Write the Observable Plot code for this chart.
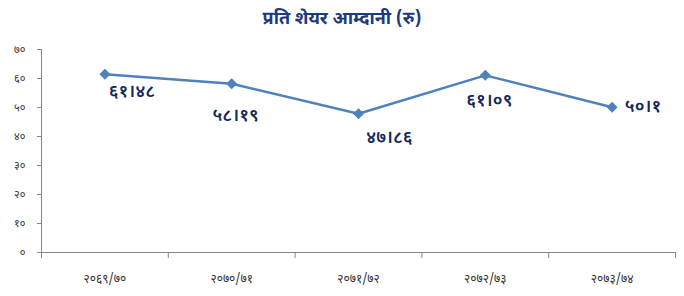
<!DOCTYPE html>
<html><head><meta charset="utf-8">
<script src="https://cdn.jsdelivr.net/npm/d3@7"></script>
<script src="https://cdn.jsdelivr.net/npm/@observablehq/plot@0.6"></script>
<style>
body{margin:0;background:#fff;font-family:"Noto Sans Devanagari","Noto Sans","Lohit Devanagari",sans-serif;}
#title{height:36px;line-height:40px;text-align:center;font-size:18px;font-weight:bold;color:#1f3a7a;}
</style></head>
<body>
<div id="title">प्रति शेयर आम्दानी (रु)</div>
<div id="chart"></div>
<script>
const categories = ["२०६९/७०", "२०७०/७१", "२०७१/७२", "२०७२/७३", "२०७३/७४"];
const values = [61.48, 58.19, 47.86, 61.09, 50.1];
const yTicks = [0, 10, 20, 30, 40, 50, 60, 70];

const digits = "०१२३४५६७८९";
const toDev = v => String(v).replace(/[0-9]/g, d => digits[+d]).replace(".", "।");

const data = categories.map((c, i) => ({i: i + 0.5, cat: c, value: values[i]}));
const offsets = [[27, 17], [4, 31], [31, 24], [4, 25], [31, -1]];
const labelFont = "\"Noto Sans Devanagari\",\"Noto Sans\",sans-serif";

const plot = Plot.plot({
  width: 684, height: 260,
  marginLeft: 41, marginRight: 9, marginTop: 13, marginBottom: 44,
  style: {fontFamily: labelFont, background: "#fff"},
  x: {type: "linear", domain: [0, categories.length], axis: null},
  y: {domain: [0, 70], axis: null},
  marks: [
    Plot.axisY({ticks: yTicks, tickFormat: toDev, tickSize: 4, tickPadding: 12, stroke: "#868686", fill: "#333", fontSize: 11, label: null}),
    Plot.axisX({ticks: d3.range(categories.length + 1), tickFormat: () => "", tickSize: 6, stroke: "#868686", label: null}),
    Plot.axisX({ticks: data.map(d => d.i), tickFormat: (t) => categories[Math.floor(t)], tickSize: 0, tickPadding: 22, fill: "#333", fontSize: 12, label: null}),
    Plot.ruleX([0], {y1: 0, y2: 70, stroke: "#868686"}),
    Plot.ruleY([0], {stroke: "#868686"}),
    Plot.line(data, {x: "i", y: "value", stroke: "#4f81bd", strokeWidth: 2.5}),
    Plot.dot(data, {x: "i", y: "value", symbol: "diamond2", fill: "#4f81bd", stroke: "#4f81bd", r: 4}),
    ...data.map((d, k) => Plot.text([d], {x: "i", y: "value", text: e => toDev(e.value), dx: offsets[k][0], dy: offsets[k][1], fill: "#14285a", fontSize: 18, fontWeight: 600}))
  ]
});
document.getElementById("chart").appendChild(plot);
</script>
</body></html>
